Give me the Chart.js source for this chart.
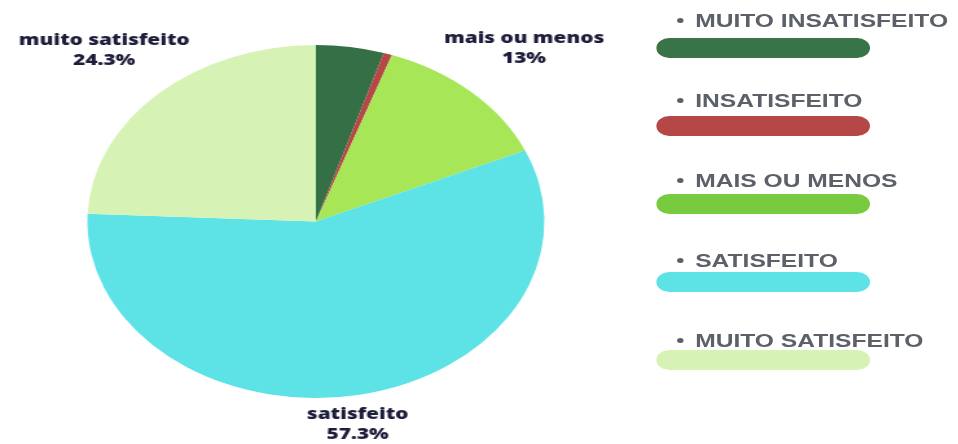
<!DOCTYPE html>
<html>
<head>
<meta charset="utf-8">
<script src="https://cdn.jsdelivr.net/npm/chart.js@4"></script>
<style>
  html, body { margin: 0; padding: 0; background: #fff; overflow: hidden; }
  #stage {
    position: absolute; left: 0; top: 0;
    width: 740px; height: 444px;
    transform: scaleX(1.2946); transform-origin: 0 0;
  }
  #pie { position: absolute; left: 0; top: 0; }
  .lg-text {
    position: absolute; left: 523px; height: 22px; line-height: 22px;
    font: bold 19px "Liberation Sans", Arial, sans-serif; color: #5c6068;
    white-space: nowrap;
  }
  .lg-text .dot {
    display: inline-block; width: 5px; height: 5px; border-radius: 50%;
    background: #5c6068; vertical-align: middle; margin: 0 9px 3px 0;
  }
  .lg-bar { position: absolute; left: 507px; width: 165px; height: 20px; border-radius: 10px; }
</style>
</head>
<body>
<div id="stage">
  <canvas id="pie" width="488" height="444"></canvas>
</div>
<script>
  'use strict'

  // data
  const categories = ['muito insatisfeito', 'insatisfeito', 'mais ou menos', 'satisfeito', 'muito satisfeito']
  const percents = [4.8, 0.6, 13, 57.3, 24.3]
  const sliceColors = ['#346f45', '#b54846', '#a7e656', '#5de2e6', '#d6f3b5']
  const legendColors = ['#387448', '#b54846', '#78cb3e', '#5de2e6', '#d6f3b5']
  const showLabel = [false, false, true, true, true]

  // labels outside the pie, two lines: name and percent
  const outerLabels = {
    id: 'outerLabels',
    afterDraw(chart) {
      const ctx = chart.ctx
      const meta = chart.getDatasetMeta(0)
      const H = chart.height
      ctx.save()
      ctx.font = '800 16px "Open Sans", "Noto Sans", sans-serif'
      ctx.fillStyle = '#1d1d3b'
      ctx.textAlign = 'center'
      ctx.textBaseline = 'middle'
      meta.data.forEach((arc, i) => {
        if (!showLabel[i]) return
        const p = arc.getProps(['x', 'y', 'startAngle', 'endAngle', 'outerRadius'], true)
        const mid = (p.startAngle + p.endAngle) / 2
        let d = p.outerRadius * 1.34
        const half = 20
        let y = p.y + Math.sin(mid) * d
        let x = p.x + Math.cos(mid) * d
        if (y + half > H) {
          // pushed up against the bottom edge, kept near the slice centre line
          y = H - half
          x = p.x + Math.cos(mid) * (y - p.y) / Math.sin(mid) * 0.85
        }
        ctx.fillText(categories[i], x, y - 10)
        ctx.fillText(percents[i] + '%', x, y + 10)
      })
      ctx.restore()
    }
  }

  new Chart(document.getElementById('pie'), {
    type: 'pie',
    data: {
      labels: categories,
      datasets: [{
        data: percents,
        backgroundColor: sliceColors,
        borderWidth: 0
      }]
    },
    options: {
      responsive: false,
      animation: false,
      layout: { padding: { top: 45, bottom: 46, left: 0, right: 0 } },
      plugins: {
        legend: { display: false },
        tooltip: { enabled: false }
      }
    },
    plugins: [outerLabels]
  })

  // legend on the right: bullet + upper-case name, then a rounded colour bar
  const stage = document.getElementById('stage')
  categories.forEach((name, i) => {
    const t = document.createElement('div')
    t.className = 'lg-text'
    t.style.top = (10 + 80 * i) + 'px'
    t.innerHTML = '<span class="dot"></span>'
    t.appendChild(document.createTextNode(name.toUpperCase()))
    stage.appendChild(t)
    const b = document.createElement('div')
    b.className = 'lg-bar'
    b.style.top = (38 + 78 * i) + 'px'
    b.style.background = legendColors[i]
    stage.appendChild(b)
  })
</script>
</body>
</html>
